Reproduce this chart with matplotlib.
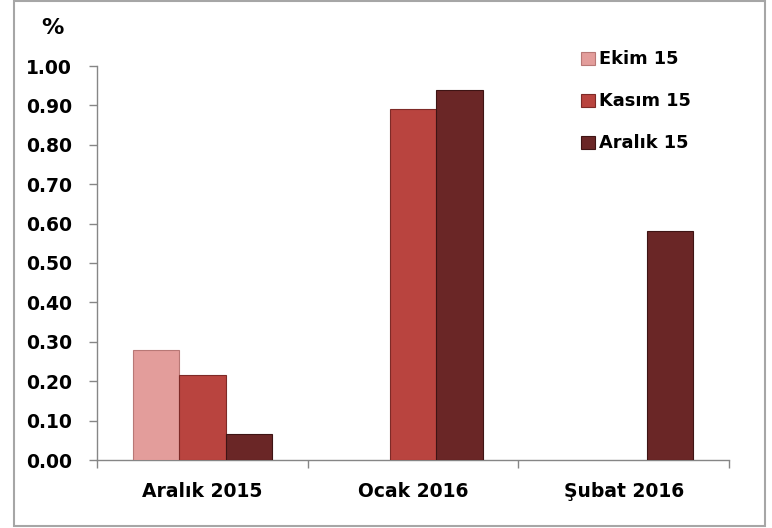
import matplotlib.pyplot as plt
import numpy as np
from matplotlib.patches import Rectangle

categories = ['Aralık 2015', 'Ocak 2016', 'Şubat 2016']
series_names = ['Ekim 15', 'Kasım 15', 'Aralık 15']
ekim = [0.28, np.nan, np.nan]
kasim = [0.217, 0.89, np.nan]
aralik = [0.065, 0.94, 0.58]
yticks = [0.0, 0.1, 0.2, 0.3, 0.4, 0.5, 0.6, 0.7, 0.8, 0.9, 1.0]

colors = ['#E39D9B', '#B9443F', '#6A2626']
edges = ['#B87876', '#7E2A27', '#3E1414']

plt.rcParams['font.family'] = ['DejaVu Sans']
plt.rcParams['font.weight'] = 'bold'

fig = plt.figure(figsize=(7.72, 5.28), dpi=100)
ax = fig.add_axes([97 / 772, 68 / 528, 632 / 772, 394 / 528])

x = np.arange(len(categories))
w = 0.22
for i, (vals, name) in enumerate(zip([ekim, kasim, aralik], series_names)):
    ax.bar(x + (i - 1) * w, vals, width=w, color=colors[i], edgecolor=edges[i],
           linewidth=0.8, label=name, zorder=3)

ax.set_xlim(-0.5, 2.5)
ax.set_ylim(0, 1.0)
ax.set_yticks(yticks)
ax.set_yticklabels([f'{v:.2f}' for v in yticks], fontsize=13.5, fontweight='bold')
ax.set_xticks(x)
ax.set_xticklabels(categories, fontsize=13.5, fontweight='bold')
ax.set_xticks([-0.5, 0.5, 1.5, 2.5], minor=True)
ax.tick_params(axis='x', which='major', length=0, pad=16)
ax.tick_params(axis='x', which='minor', length=6, color='#868686', width=1)
ax.tick_params(axis='y', length=6, color='#868686', width=1, pad=12)

for s in ['top', 'right']:
    ax.spines[s].set_visible(False)
for s in ['left', 'bottom']:
    ax.spines[s].set_color('#868686')
    ax.spines[s].set_linewidth(1)

fig.text(52 / 772, 1 - 28 / 528, '%', fontsize=16, fontweight='bold',
         ha='center', va='center')

leg = ax.legend(loc='upper left', bbox_to_anchor=(0.74, 1.08), frameon=False,
                fontsize=12.8, handlelength=0.8, handleheight=0.8,
                handletextpad=0.25, labelspacing=1.35)
for t in leg.get_texts():
    t.set_fontweight('bold')

fig.patches.append(Rectangle((14 / 772, 2 / 528), 751 / 772, 525 / 528,
                             transform=fig.transFigure, fill=False,
                             edgecolor='#A6A6A6', linewidth=1.5))

fig.savefig('out.png', dpi=100)
